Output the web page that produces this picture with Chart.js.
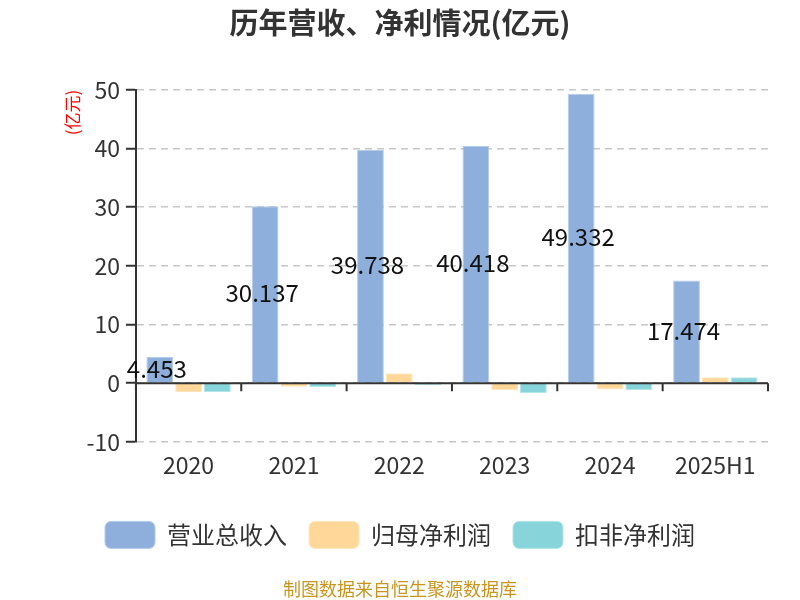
<!DOCTYPE html>
<html>
<head>
<meta charset="utf-8">
<script src="https://cdn.jsdelivr.net/npm/chart.js@4.4.1/dist/chart.umd.min.js"></script>
<style>
  html, body { margin: 0; padding: 0; background: #fff; }
  #wrap { position: relative; width: 800px; height: 600px; }
</style>
</head>
<body>
<div id="wrap"><canvas id="barChart" width="800" height="600"></canvas></div>
<script>
// chart data (亿元)
var years = ['2020', '2021', '2022', '2023', '2024', '2025H1'];
var revenue = [4.453, 30.137, 39.738, 40.418, 49.332, 17.474];
var netProfit = [-1.5, -0.6, 1.7, -1.2, -1.1, 1.0];
var deductedProfit = [-1.5, -0.7, -0.3, -1.7, -1.2, 1.0];
var yTicks = [-10, 0, 10, 20, 30, 40, 50];

var FONT = '"Microsoft YaHei", "Noto Sans CJK SC", "Noto Sans", sans-serif';

// x axis drawn at the zero line, with tick marks between categories
var zeroAxis = {
    id: 'zeroAxis',
    afterDatasetsDraw: function (chart) {
        var c = chart.ctx, x = chart.scales.x, y = chart.scales.y;
        var y0 = y.getPixelForValue(0);
        c.save();
        c.strokeStyle = '#333';
        c.lineWidth = 2;
        c.beginPath();
        c.moveTo(x.left, y0);
        c.lineTo(x.right, y0);
        for (var i = 0; i <= years.length; i++) {
            var px = x.left + (x.right - x.left) * i / years.length;
            c.moveTo(px, y0);
            c.lineTo(px, y0 + 8);
        }
        c.stroke();
        c.restore();
    }
};

// revenue value labels in the middle of the bars
var valueLabels = {
    id: 'valueLabels',
    afterDatasetsDraw: function (chart) {
        var c = chart.ctx;
        var meta = chart.getDatasetMeta(0);
        c.save();
        c.font = '24px ' + FONT;
        c.fillStyle = '#111';
        c.textAlign = 'center';
        c.textBaseline = 'middle';
        meta.data.forEach(function (bar, i) {
            c.fillText(revenue[i].toFixed(3), bar.x - 3, (bar.y + bar.base) / 2 - 1);
        });
        c.restore();
    }
};

var ctx = document.getElementById('barChart').getContext('2d');
var barChart = new Chart(ctx, {
    type: 'bar',
    data: {
        labels: years,
        datasets: [{
            label: '营业总收入',
            data: revenue,
            backgroundColor: '#8eaedb',
            borderColor: '#b5cbea',
            borderWidth: 1
        }, {
            label: '归母净利润',
            data: netProfit,
            backgroundColor: '#ffd899',
            borderColor: '#ffe6bd',
            borderWidth: 1
        }, {
            label: '扣非净利润',
            data: deductedProfit,
            backgroundColor: '#87d5da',
            borderColor: '#b3e5e8',
            borderWidth: 1
        }]
    },
    options: {
        responsive: false,
        animation: false,
        devicePixelRatio: 1,
        categoryPercentage: 0.82,
        barPercentage: 0.93,
        layout: { padding: { left: 32, right: 32, top: 4, bottom: 0 } },
        plugins: {
            title: {
                display: true,
                text: '历年营收、净利情况(亿元)',
                color: '#333',
                font: { family: FONT, size: 29, weight: 'bold' },
                padding: { top: 2, bottom: 49 }
            },
            subtitle: {
                display: true,
                position: 'bottom',
                text: '制图数据来自恒生聚源数据库',
                color: '#c8961e',
                font: { family: FONT, size: 18 },
                padding: { top: 20, bottom: 0 }
            },
            legend: {
                position: 'bottom',
                labels: {
                    color: '#333',
                    font: { family: FONT, size: 24 },
                    boxWidth: 50,
                    boxHeight: 27,
                    padding: 22,
                    useBorderRadius: true,
                    borderRadius: 6
                }
            },
            tooltip: { enabled: false }
        },
        scales: {
            x: {
                grid: { display: false, drawTicks: false },
                border: { display: false },
                ticks: {
                    color: '#333',
                    font: { family: FONT, size: 23 },
                    padding: 10
                },
                afterFit: function (scale) { scale.height += 10; }
            },
            y: {
                min: -10,
                max: 50,
                afterBuildTicks: function (axis) {
                    axis.ticks = yTicks.map(function (v) { return { value: v }; });
                },
                afterFit: function (scale) { scale.width -= 6; },
                grid: {
                    color: '#c8c8c8',
                    lineWidth: 1.5,
                    tickColor: '#333',
                    tickLength: 10,
                    tickWidth: 2
                },
                border: { display: true, color: '#333', width: 2, dash: [7, 5] },
                ticks: {
                    color: '#333',
                    font: { family: FONT, size: 23 },
                    padding: 6
                },
                title: {
                    display: true,
                    text: '(亿元)',
                    align: 'end',
                    color: '#ff0000',
                    font: { family: FONT, size: 17 },
                    padding: { top: 30, bottom: 4 }
                }
            }
        }
    },
    plugins: [zeroAxis, valueLabels]
});
</script>
</body>
</html>
